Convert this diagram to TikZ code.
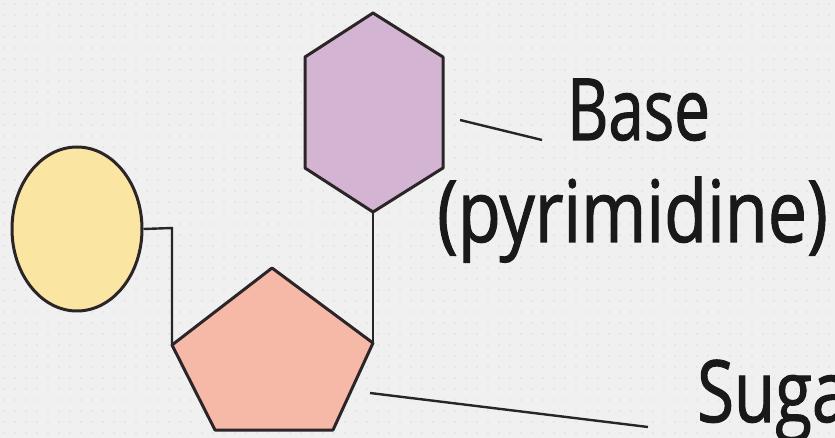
\documentclass[tikz,border=0pt]{standalone}
\usepackage{fontspec}
\setmainfont[FakeStretch=0.78,FakeBold=1.2]{Open Sans}
\newfontfamily\basefont[FakeStretch=0.74,FakeBold=1.2]{Open Sans}
\newfontfamily\pyrfont[FakeStretch=0.815,FakeBold=1.2]{Open Sans}
\usetikzlibrary{shapes.geometric}
\definecolor{bg}{HTML}{F0F0F0}
\definecolor{dotc}{HTML}{DCDCDC}
\definecolor{yell}{HTML}{FBE5A2}
\definecolor{salmon}{HTML}{F6B9A8}
\definecolor{lav}{HTML}{D3B5D3}
\definecolor{edge}{HTML}{2B2528}
\tikzset{
  shapeline/.style={draw=edge, line width=3pt, line join=round},
  link/.style={draw=black!85, line width=2.4pt},
  lbl/.style={font=\fontsize{86}{90}\selectfont, inner sep=0pt, anchor=base west, text=black!90}
}
\begin{document}
\begin{tikzpicture}[x=1pt,y=-1pt]
\useasboundingbox (0,0) rectangle (835,438);
\begin{scope}
\clip (0,0) rectangle (835,438);
\fill[bg] (0,0) rectangle (835,438);
\foreach \i in {0,...,75}{\foreach \j in {0,...,39}{
  \fill[dotc] (\i*11+4,\j*11+4) circle (0.8pt);}}
% ellipse (phosphate)
\node[ellipse, shapeline, fill=yell, minimum width=130pt, minimum height=164pt, inner sep=0pt] (phos) at (77,229) {};
% hexagon (base)
\coordinate (hT) at (373,13);
\coordinate (hUR) at (443,57);
\coordinate (hLR) at (443,168);
\coordinate (hB) at (373,212);
\coordinate (hLL) at (305,168);
\coordinate (hUL) at (305,57);
\path[shapeline, fill=lav] (hT) -- (hUR) -- (hLR) -- (hB) -- (hLL) -- (hUL) -- cycle;
% pentagon (sugar)
\coordinate (pT) at (272,268);
\coordinate (pR) at (373,343);
\coordinate (pBR) at (333,430);
\coordinate (pBL) at (215,430);
\coordinate (pL) at (172,345);
\path[shapeline, fill=salmon] (pT) -- (pR) -- (pBR) -- (pBL) -- (pL) -- cycle;
% connectors
\coordinate (corner) at (172,228);
\draw[link] (phos.east) -- (corner) -- (pL);
\draw[link] (hB) -- (pR);
% labels
\node[lbl, font=\basefont\fontsize{86}{90}\selectfont] (base) at (567,140) {Base};
\node[lbl, font=\pyrfont\fontsize{86}{90}\selectfont] (pyr) at (437,242) {(pyrimidine)};
\node[lbl] (sugar) at (697,422) {Sugar};
\coordinate (bl1) at (460,120);
\coordinate (bl2) at (542,140);
\draw[link] (bl1) -- (bl2);
\coordinate (sl1) at (370,393);
\coordinate (sl2) at (648,427);
\draw[link] (sl1) -- (sl2);
\end{scope}
\end{tikzpicture}
\end{document}
